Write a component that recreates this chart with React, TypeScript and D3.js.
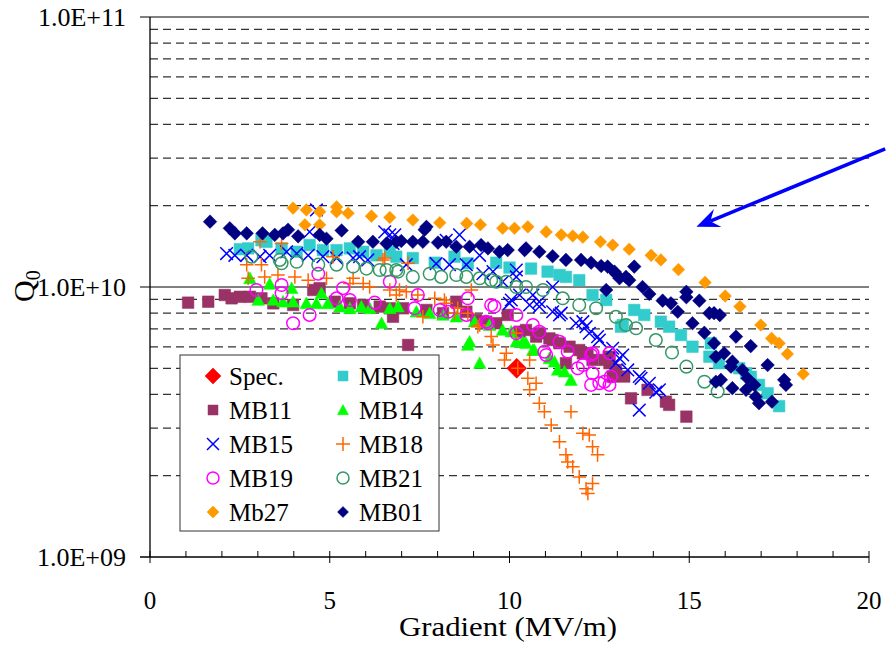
import React from 'react';
import * as d3 from 'd3';

// gradient (MV/m), Q0
const SPEC = [[10.2, 5.0e9]];
const MB09 = [[2.5,1.38e10],[2.73,1.39e10],[3.1,1.49e10],[3.24,1.47e10],[3.66,1.39e10],[4.08,1.35e10],[4.44,1.43e10],[4.81,1.37e10],[5.19,1.37e10],[5.56,1.39e10],[5.93,1.35e10],[6.3,1.31e10],[6.67,1.35e10],[6.85,1.295e10],[7.31,1.28e10],[7.92,1.23e10],[8.47,1.295e10],[8.84,1.224e10],[9.63,1.23e10],[10.0,1.18e10],[10.6,1.17e10],[11.06,1.14e10],[11.39,1.108e10],[11.57,1.09e10],[11.94,1.06e10],[12.31,9.34e9],[12.69,8.95e9],[13.47,8.22e9],[13.75,7.88e9],[13.1,7.13e9],[13.15,7.23e9],[14.21,7.44e9],[14.44,7.13e9],[14.77,6.64e9],[15.09,6.01e9],[15.6,6.19e9],[15.56,5.52e9],[15.83,5.22e9],[16.39,5.0e9],[16.58,4.79e9],[16.71,4.65e9],[16.94,4.34e9],[17.18,4.04e9],[17.5,3.62e9]];
const MB11 = [[1.06,8.75e9],[1.62,8.82e9],[2.08,9.34e9],[2.27,9.08e9],[2.5,9.2e9],[2.78,9.2e9],[3.1,9.08e9],[3.43,8.7e9],[3.98,8.58e9],[4.54,9.75e9],[4.72,9.9e9],[5.14,8.82e9],[5.56,8.7e9],[5.93,8.58e9],[6.39,8.46e9],[6.76,7.76e9],[7.18,6.1e9],[6.67,8.34e9],[7.04,8.34e9],[7.69,8.22e9],[8.15,8.0e9],[8.52,8.82e9],[8.8,8.1e9],[9.07,7.55e9],[9.35,7.44e9],[9.63,7.34e9],[9.95,7.88e9],[10.28,6.83e9],[10.46,6.93e9],[10.74,6.55e9],[10.83,6.74e9],[11.11,6.45e9],[11.2,6.36e9],[11.39,6.19e9],[11.67,6.01e9],[11.94,5.84e9],[12.04,5.68e9],[12.17,5.68e9],[12.31,5.37e9],[12.78,5.52e9],[12.78,5.22e9],[11.57,5.22e9],[12.96,4.93e9],[13.19,4.66e9],[13.38,3.87e9],[13.84,4.16e9],[14.35,3.76e9],[14.44,3.66e9],[14.92,3.31e9],[12.64,5.37e9],[12.87,4.66e9]];
const MB14 = [[2.78,1.077e10],[3.33,1.026e10],[3.01,8.95e9],[3.43,8.95e9],[3.7,8.82e9],[3.94,9.9e9],[3.98,8.82e9],[4.35,8.7e9],[4.63,8.7e9],[4.77,9.48e9],[4.95,8.7e9],[5.28,8.46e9],[5.56,8.34e9],[5.88,8.46e9],[6.11,8.34e9],[6.44,7.34e9],[6.67,8.34e9],[6.9,8.46e9],[7.41,8.1e9],[7.78,8.0e9],[8.15,7.88e9],[8.52,7.76e9],[8.84,6.1e9],[9.03,7.44e9],[9.44,7.23e9],[9.81,6.93e9],[10.05,6.83e9],[10.37,6.27e9],[10.65,5.84e9],[8.89,6.27e9],[9.17,5.22e9],[10.19,6.27e9],[10.46,6.19e9],[10.69,5.84e9],[11.11,5.44e9],[11.25,5.29e9],[11.34,4.93e9],[11.53,4.86e9],[11.71,4.52e9]];
const MB15 = [[4.63,1.93e10],[4.44,1.6e10],[2.13,1.33e10],[2.36,1.31e10],[2.69,1.31e10],[3.06,1.295e10],[3.33,1.31e10],[3.8,1.35e10],[4.08,1.33e10],[4.4,1.31e10],[4.81,1.295e10],[5.19,1.28e10],[5.65,1.28e10],[5.83,1.295e10],[6.06,1.26e10],[6.67,1.56e10],[6.76,1.45e10],[6.53,1.6e10],[6.81,1.56e10],[8.24,1.49e10],[8.61,1.56e10],[7.13,1.21e10],[7.96,1.22e10],[8.33,1.21e10],[8.8,1.21e10],[9.17,1.31e10],[9.26,1.12e10],[9.54,1.14e10],[10.19,1.156e10],[10.19,1.09e10],[9.81,1.046e10],[10.05,8.95e9],[10.28,9.34e9],[10.65,9.34e9],[10.56,8.58e9],[10.83,8.82e9],[11.2,1.0e10],[11.44,8.0e9],[11.2,8.1e9],[12.04,7.44e9],[12.13,7.13e9],[12.45,6.55e9],[12.87,5.93e9],[13.15,5.6e9],[10.0,8.7e9],[10.83,8.46e9],[11.39,7.88e9],[11.85,7.34e9],[12.22,6.74e9],[12.5,6.36e9],[13.06,5.44e9],[12.96,5.22e9],[13.61,4.66e9],[13.89,4.4e9],[13.61,3.5e9],[14.17,4.16e9],[13.29,4.93e9],[13.66,4.59e9],[14.07,4.08e9]];
const MB18 = [[3.06,1.47e10],[3.66,1.45e10],[2.69,1.21e10],[3.1,1.21e10],[2.73,1.077e10],[3.19,1.09e10],[3.56,1.108e10],[4.03,1.09e10],[4.4,1.06e10],[4.91,1.077e10],[5.09,1.295e10],[5.56,1.03e10],[5.65,1.077e10],[5.93,1.03e10],[6.11,1.0e10],[6.48,1.26e10],[6.67,9.75e9],[6.85,9.34e9],[6.53,1.28e10],[7.18,1.224e10],[6.94,9.75e9],[7.13,9.6e9],[7.45,9.34e9],[7.92,9.08e9],[8.19,8.95e9],[7.59,7.76e9],[8.56,8.34e9],[8.84,8.0e9],[8.94,9.75e9],[9.17,7.23e9],[9.49,6.55e9],[9.54,6.1e9],[9.91,5.68e9],[10.19,6.74e9],[8.24,8.7e9],[8.47,8.0e9],[9.12,7.13e9],[9.86,5.37e9],[10.23,5.0e9],[10.56,5.37e9],[10.51,4.59e9],[10.74,4.4e9],[10.56,4.16e9],[10.83,3.71e9],[10.97,3.45e9],[11.16,3.08e9],[11.39,2.67e9],[11.57,2.39e9],[11.62,2.25e9],[11.76,2.16e9],[11.94,1.98e9],[12.13,1.79e9],[12.18,1.72e9],[12.31,1.87e9],[11.71,3.45e9],[12.04,2.87e9],[12.31,2.56e9],[12.45,2.39e9],[12.22,2.83e9]];
const MB19 = [[2.96,9.75e9],[3.66,1.017e10],[3.66,9.48e9],[3.98,7.34e9],[4.44,7.88e9],[4.68,1.12e10],[5.19,9.08e9],[5.37,9.9e9],[5.56,8.95e9],[6.25,8.75e9],[6.67,1.046e10],[7.45,9.34e9],[7.36,8.34e9],[8.06,8.22e9],[8.29,8.1e9],[8.84,9.08e9],[8.8,7.88e9],[9.49,8.58e9],[9.58,8.46e9],[9.4,7.34e9],[10.19,7.88e9],[10.19,6.74e9],[10.65,7.23e9],[10.83,6.83e9],[11.39,6.27e9],[11.62,5.76e9],[10.97,5.76e9],[12.31,5.68e9],[12.78,5.68e9],[9.35,7.44e9],[11.02,5.6e9],[11.9,5.0e9],[12.04,5.14e9],[12.27,5.6e9],[12.31,4.79e9],[12.27,4.34e9],[12.5,4.4e9],[12.82,4.66e9],[12.78,4.34e9],[12.64,4.46e9]];
const MB21 = [[2.82,1.295e10],[3.61,1.26e10],[3.66,1.224e10],[4.08,1.24e10],[4.68,1.21e10],[5.19,1.21e10],[5.65,1.19e10],[6.02,1.17e10],[6.39,1.156e10],[6.58,1.156e10],[6.85,1.156e10],[6.9,1.14e10],[7.31,1.09e10],[7.78,1.12e10],[8.1,1.09e10],[8.52,1.108e10],[8.8,1.09e10],[9.17,1.077e10],[9.49,1.06e10],[9.63,1.046e10],[9.91,1.046e10],[10.19,1.0e10],[10.46,1.0e10],[10.93,9.75e9],[11.48,9.08e9],[11.94,8.58e9],[12.41,8.34e9],[12.96,7.76e9],[13.24,7.23e9],[13.52,7.03e9],[14.07,6.36e9],[14.52,5.72e9],[14.92,5.07e9],[15.42,4.46e9],[15.79,4.1e9]];
const MB27 = [[3.98,1.96e10],[4.35,1.93e10],[4.72,1.9e10],[5.19,1.98e10],[5.19,1.9e10],[5.51,1.875e10],[6.16,1.83e10],[6.67,1.81e10],[4.31,1.7e10],[4.72,1.7e10],[7.31,1.77e10],[8.06,1.73e10],[8.81,1.72e10],[9.19,1.7e10],[9.81,1.65e10],[10.14,1.65e10],[10.51,1.67e10],[11.02,1.6e10],[11.44,1.56e10],[11.76,1.545e10],[12.04,1.53e10],[12.53,1.47e10],[12.87,1.43e10],[13.33,1.38e10],[13.94,1.31e10],[14.21,1.26e10],[14.7,1.16e10],[15.44,1.04e10],[16.0,9.26e9],[16.41,8.46e9],[16.99,7.23e9],[17.29,6.45e9],[17.5,6.19e9],[17.73,5.65e9],[18.17,4.76e9]];
const MB01 = [[1.67,1.746e10],[2.22,1.65e10],[2.36,1.58e10],[2.69,1.58e10],[3.13,1.58e10],[3.47,1.56e10],[3.7,1.58e10],[3.84,1.63e10],[4.12,1.54e10],[4.72,1.56e10],[4.91,1.51e10],[5.33,1.62e10],[5.79,1.47e10],[6.2,1.47e10],[6.58,1.45e10],[6.85,1.47e10],[6.99,1.48e10],[7.31,1.47e10],[7.59,1.47e10],[7.64,1.63e10],[7.69,1.67e10],[8.01,1.46e10],[8.24,1.47e10],[8.52,1.41e10],[8.89,1.41e10],[9.21,1.43e10],[9.4,1.39e10],[9.72,1.35e10],[9.95,1.37e10],[10.42,1.37e10],[10.46,1.39e10],[10.83,1.35e10],[11.2,1.3e10],[11.57,1.26e10],[11.99,1.26e10],[12.27,1.23e10],[12.55,1.196e10],[12.73,1.19e10],[12.96,1.12e10],[13.24,1.09e10],[12.69,9.75e9],[12.92,1.14e10],[13.06,1.077e10],[13.33,1.06e10],[13.47,1.19e10],[13.7,1.0e10],[13.89,9.42e9],[14.26,8.9e9],[14.49,8.7e9],[14.68,8.1e9],[14.92,9.6e9],[14.92,9.16e9],[15.09,7.34e9],[15.28,8.9e9],[15.42,6.77e9],[15.56,8.0e9],[15.69,8.0e9],[15.85,7.87e9],[15.69,6.19e9],[15.74,5.52e9],[15.97,5.68e9],[16.2,5.29e9],[16.3,6.55e9],[16.71,6.04e9],[16.16,5.07e9],[16.48,4.93e9],[16.62,4.59e9],[15.74,4.46e9],[15.88,4.53e9],[16.2,4.22e9],[16.58,4.16e9],[16.81,4.34e9],[16.85,3.92e9],[16.94,3.71e9],[17.3,3.76e9],[17.18,5.14e9],[17.64,4.53e9],[17.69,4.34e9]];

const X_TICKS = [0, 5, 10, 15, 20];
const Y_TICKS = [1e9, 1e10, 1e11];
const Y_LABELS = ['1.0E+09', '1.0E+10', '1.0E+11'];
const ARROW = [[20.45, 3.25e10], [15.2, 1.67e10]];

const FONT = '"Liberation Serif", "Times New Roman", serif';

// marker shapes
const diamond = (r) => `M0,${-r}L${r},0L0,${r}L${-r},0Z`;
const square = (r) => `M${-r},${-r}H${r}V${r}H${-r}Z`;
const triangle = (r) => `M0,${-r}L${r},${r * 0.85}L${-r},${r * 0.85}Z`;
const cross = (r) => `M${-r},${-r}L${r},${r}M${-r},${r}L${r},${-r}`;
const plus = (r) => `M${-r},0H${r}M0,${-r}V${r}`;
const circle = (r) => `M${r},0A${r},${r} 0 1,1 ${-r},0A${r},${r} 0 1,1 ${r},0Z`;

const series = [
  {name: 'Spec.', data: SPEC, shape: diamond, r: 10, lr: 8, color: '#ff0000', filled: true},
  {name: 'MB09', data: MB09, shape: square, r: 5.8, lr: 5, color: '#33cccc', filled: true},
  {name: 'MB11', data: MB11, shape: square, r: 5.8, lr: 5, color: '#993366', filled: true},
  {name: 'MB14', data: MB14, shape: triangle, r: 6.3, lr: 5.5, color: '#00ff00', filled: true},
  {name: 'MB15', data: MB15, shape: cross, r: 6.3, lr: 6, color: '#0000ff', filled: false},
  {name: 'MB18', data: MB18, shape: plus, r: 6.8, lr: 7, color: '#ff6600', filled: false},
  {name: 'MB19', data: MB19, shape: circle, r: 6.3, lr: 6, color: '#ff00ff', filled: false},
  {name: 'MB21', data: MB21, shape: circle, r: 6.3, lr: 6, color: '#339966', filled: false},
  {name: 'Mb27', data: MB27, shape: diamond, r: 6.3, lr: 6, color: '#ff9900', filled: true},
  {name: 'MB01', data: MB01, shape: diamond, r: 6.8, lr: 5.5, color: '#000080', filled: true},
];

export default function App() {
  const W = 886, H = 646;
  const x = d3.scaleLinear().domain([0, 20]).range([150, 869]);
  const y = d3.scaleLog().domain([1e9, 1e11]).range([557, 17]);

  // minor gridlines 2..9 in each decade
  const minors = [];
  [1e9, 1e10].forEach((d) => {
    for (let k = 2; k <= 9; k++) minors.push(d * k);
  });

  const mark = (s, px, py, r, key) => (
    <path
      key={key}
      d={s.shape(r)}
      transform={`translate(${px},${py})`}
      fill={s.filled ? s.color : 'none'}
      stroke={s.color}
      strokeWidth={s.filled ? 0.5 : 1.5}
    />
  );

  const [a0, a1] = ARROW;
  const ax0 = x(a0[0]), ay0 = y(a0[1]), ax1 = x(a1[0]), ay1 = y(a1[1]);
  const ang = Math.atan2(ay0 - ay1, ax0 - ax1);
  const rot = (len, da) => [ax1 + len * Math.cos(ang + da), ay1 + len * Math.sin(ang + da)];
  const b1 = rot(25, 0.4), b2 = rot(25, -0.4), bm = rot(15, 0);

  return (
    <svg width={W} height={H} style={{position: 'absolute', left: 0, top: 0, background: '#fff'}} fontFamily={FONT}>
      <rect width={W} height={H} fill="#fff" />
      {/* gridlines */}
      {minors.map((v) => (
        <line key={v} x1={x(0)} x2={x(20)} y1={y(v)} y2={y(v)} stroke="#333" strokeWidth={1.2} strokeDasharray="8,5" />
      ))}
      {Y_TICKS.map((v) => (
        <line key={v} x1={x(0) - 10} x2={x(20)} y1={y(v)} y2={y(v)} stroke="#000" strokeWidth={v === 1e9 ? 1.3 : 1} />
      ))}
      {/* axes */}
      <line x1={x(0)} x2={x(0)} y1={y(1e11)} y2={y(1e9)} stroke="#000" strokeWidth={1.3} />
      {d3.range(0, 21).map((v) => (
        <line key={v} x1={x(v)} x2={x(v)} y1={y(1e9) - 6} y2={y(1e9) + (v % 5 === 0 ? 6 : 0)} stroke="#000" strokeWidth={1} />
      ))}
      {X_TICKS.map((v) => (
        <text key={v} x={x(v)} y={609} textAnchor="middle" fontSize={25}>{v}</text>
      ))}
      {Y_TICKS.map((v, i) => (
        <text key={v} x={126} y={y(v) + 9} textAnchor="end" fontSize={26}>{Y_LABELS[i]}</text>
      ))}
      <text x={508} y={636} textAnchor="middle" fontSize={27} textLength={218} lengthAdjust="spacingAndGlyphs">Gradient (MV/m)</text>
      <text transform="translate(34,302) rotate(-90)" fontSize={30}>
        Q<tspan fontSize={20} dy={6}>0</tspan>
      </text>

      {/* data */}
      {series.map((s) => (
        <g key={s.name}>
          {s.data.map((d, i) => mark(s, x(d[0]), y(d[1]), s.r, i))}
        </g>
      ))}

      {/* annotation arrow */}
      <line x1={ax0} y1={ay0} x2={bm[0]} y2={bm[1]} stroke="#0000ff" strokeWidth={3.5} />
      <path d={`M${ax1},${ay1}L${b1[0]},${b1[1]}L${bm[0]},${bm[1]}L${b2[0]},${b2[1]}Z`} fill="#0000ff" />

      {/* legend */}
      <g>
        <rect x={180} y={355} width={259} height={176} fill="#fff" stroke="#333" strokeWidth={1} />
        {series.map((s, i) => {
          const col = i % 2, row = Math.floor(i / 2);
          const lx = col === 0 ? 213 : 343;
          const ly = 376 + row * 34;
          return (
            <g key={s.name}>
              {mark(s, lx, ly, s.lr, 'm')}
              <text x={lx + 16} y={ly + 9} fontSize={25}>{s.name}</text>
            </g>
          );
        })}
      </g>
    </svg>
  );
}
